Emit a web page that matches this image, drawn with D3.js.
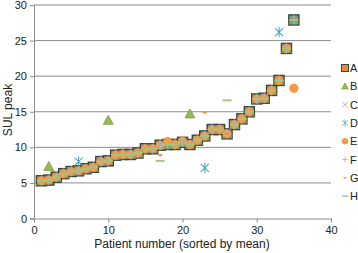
<!DOCTYPE html>
<html>
<head>
<meta charset="utf-8">
<script src="https://cdn.jsdelivr.net/npm/d3@7"></script>
<style>
  body { margin: 0; background: #fff; }
  text { font-family: "Liberation Sans", Arial, sans-serif; fill: #222; }
</style>
</head>
<body>
<div id="chart"></div>
<script>
// patient numbers, sorted by mean
const patients = [1,2,3,4,5,6,7,8,9,10,11,12,13,14,15,16,17,18,19,20,21,22,23,24,25,26,27,28,29,30,31,32,33,34,35];
const seriesA = [5.3,5.4,5.8,6.3,6.6,6.7,7.0,7.2,8.0,8.1,8.9,9.0,9.0,9.2,9.8,9.8,10.3,10.4,10.4,10.7,10.4,11.0,11.6,12.5,12.5,11.9,13.2,14.0,15.0,16.8,16.9,18.0,19.4,23.9,27.9];
const seriesB = [5.3,7.3,5.8,6.3,6.6,6.7,7.0,7.2,8.0,13.8,8.9,9.0,9.0,9.2,9.8,9.8,10.3,10.4,10.4,10.7,14.7,11.0,11.6,12.5,12.5,11.9,13.2,14.0,15.0,16.8,16.9,18.0,19.4,23.9,27.9];
const seriesC = [5.3,5.4,5.8,6.3,6.6,6.7,7.0,7.2,8.0,8.1,8.9,9.0,9.0,9.2,9.8,9.8,10.3,10.4,10.4,10.7,10.4,11.0,11.6,12.5,12.5,11.9,13.2,14.0,15.0,16.8,16.9,18.0,19.4,23.9,27.9];
const seriesD = [5.3,5.4,5.8,6.3,6.6,8.0,7.0,7.2,8.0,8.1,8.9,9.0,9.0,9.2,9.8,9.8,10.3,10.4,10.4,10.7,10.4,11.0,7.1,12.5,12.5,11.9,13.2,14.0,15.0,16.8,16.9,18.0,26.2,23.9,27.9];
const seriesE = [5.3,5.4,5.8,6.3,6.6,6.7,7.0,7.2,8.0,8.1,8.9,9.0,9.0,9.2,9.8,9.8,10.3,10.8,10.4,10.9,10.4,11.0,11.6,12.5,12.5,11.9,13.2,14.0,15.0,16.8,16.9,18.0,19.4,23.9,18.3];
const seriesF = [5.3,5.4,5.8,6.3,6.6,6.7,7.0,7.2,8.0,8.1,8.9,9.0,9.0,9.2,9.8,9.8,10.3,10.4,10.4,10.7,10.4,11.0,11.6,12.5,12.5,11.9,13.2,14.0,15.0,16.8,16.9,18.0,19.4,23.9,27.9];
const seriesG = [5.3,5.4,5.8,6.3,6.6,6.7,7.0,7.2,8.0,8.1,8.9,9.0,9.0,9.2,9.8,9.8,8.9,10.4,10.4,10.7,10.4,11.0,14.9,12.5,12.5,11.9,13.2,14.0,15.0,16.8,16.9,18.0,19.4,23.9,27.9];
const seriesH = [5.3,5.4,5.8,6.3,6.6,6.7,7.0,7.2,8.0,8.1,8.9,9.0,9.0,9.2,9.8,9.8,8.1,10.4,10.4,10.7,10.4,11.0,11.6,12.5,12.5,16.6,13.2,14.0,15.0,16.8,16.9,18.0,19.4,23.9,27.9];
const seriesNames = ["A","B","C","D","E","F","G","H"];
const xTicks = [0,10,20,30,40];
const yTicks = [0,5,10,15,20,25,30];

const allSeries = [seriesA, seriesB, seriesC, seriesD, seriesE, seriesF, seriesG, seriesH];

const width = 358, height = 253;
const svg = d3.select("#chart").append("svg")
    .attr("width", width)
    .attr("height", height);

let x = d3.scaleLinear().domain([0, 40]).range([34, 331]);
let y = d3.scaleLinear().domain([0, 30]).range([218.5, 5]);

// horizontal grid
svg.append("g")
    .selectAll("line")
    .data(yTicks.slice(1))
    .enter().append("line")
    .attr("x1", x(0)).attr("x2", x(40))
    .attr("y1", d => y(d)).attr("y2", d => y(d))
    .attr("stroke", "#8c8c8c")
    .attr("stroke-width", 1);

// axes
let xAxis = svg.append("g")
    .attr("transform", "translate(0," + y(0) + ")")
    .call(d3.axisBottom(x).tickValues(xTicks).tickSize(4).tickPadding(4));
let yAxis = svg.append("g")
    .attr("transform", "translate(" + x(0) + ",0)")
    .call(d3.axisLeft(y).tickValues(yTicks).tickSize(4).tickPadding(3));

[xAxis, yAxis].forEach(function(ax){
    ax.select(".domain").attr("stroke", "#8c8c8c");
    ax.selectAll(".tick line").attr("stroke", "#8c8c8c");
    ax.selectAll("text").style("font-size", "11px").attr("fill", "#222")
        .style("font-family", "'Liberation Sans', Arial, sans-serif");
});

svg.append("text")
    .text("Patient number (sorted by mean)")
    .attr("x", 182).attr("y", 248)
    .attr("text-anchor", "middle")
    .style("font-size", "12px");

svg.append("text")
    .text("SUL peak")
    .attr("text-anchor", "middle")
    .attr("transform", "translate(12,110) rotate(-90)")
    .style("font-size", "12px");

// marker painters, one per series
function marker(g, idx){
    switch(idx){
        case 0:
            g.append("rect").attr("x", -5).attr("y", -5).attr("width", 10).attr("height", 10)
                .attr("fill", "#f08a3a").attr("stroke", "#3b4846").attr("stroke-width", 1.5);
            break;
        case 1:
            g.append("path").attr("d", "M0,-5L5,4L-5,4Z")
                .attr("fill", "#98b954").attr("stroke", "#7a9a40").attr("stroke-width", 0.8);
            break;
        case 2:
            g.append("path").attr("d", "M-4,-4L4,4M-4,4L4,-4")
                .attr("stroke", "#77727e").attr("stroke-width", 0.8).attr("fill", "none");
            break;
        case 3:
            g.append("path").attr("d", "M-4,-4L4,4M-4,4L4,-4M0,-5L0,5")
                .attr("stroke", "#46a7c0").attr("stroke-width", 1.1).attr("fill", "none");
            break;
        case 4:
            g.append("circle").attr("r", 4.3)
                .attr("fill", "#f59a44").attr("stroke", "#e8893a").attr("stroke-width", 0.6);
            break;
        case 5:
            g.append("path").attr("d", "M-4,0L4,0M0,-4L0,4")
                .attr("stroke", "#9bb7d9").attr("stroke-width", 1.2).attr("fill", "none");
            break;
        case 6:
            g.append("path").attr("d", "M-2,0L2,0")
                .attr("stroke", "#f08a3c").attr("stroke-width", 2).attr("fill", "none");
            break;
        case 7:
            g.append("path").attr("d", "M-4.5,0L4.5,0")
                .attr("stroke", "#a6c57a").attr("stroke-width", 2).attr("fill", "none");
            break;
    }
}

// points
allSeries.forEach(function(vals, idx){
    let grp = svg.append("g").attr("class", "series-" + seriesNames[idx]);
    grp.selectAll("g")
        .data(patients.map((p, i) => ({p: p, v: vals[i]})))
        .enter().append("g")
        .attr("transform", d => "translate(" + x(d.p) + "," + y(d.v) + ")")
        .each(function(){ marker(d3.select(this), idx); });
});

// legend
let legend = svg.append("g");
seriesNames.forEach(function(name, i){
    let row = legend.append("g").attr("transform", "translate(0," + (68 + i * 18.3) + ")");
    let m = row.append("g").attr("transform", "translate(345,0) scale(0.7)");
    marker(m, i);
    row.append("text").text(name)
        .attr("x", 350).attr("y", 4)
        .style("font-size", "11px");
});
</script>
</body>
</html>
